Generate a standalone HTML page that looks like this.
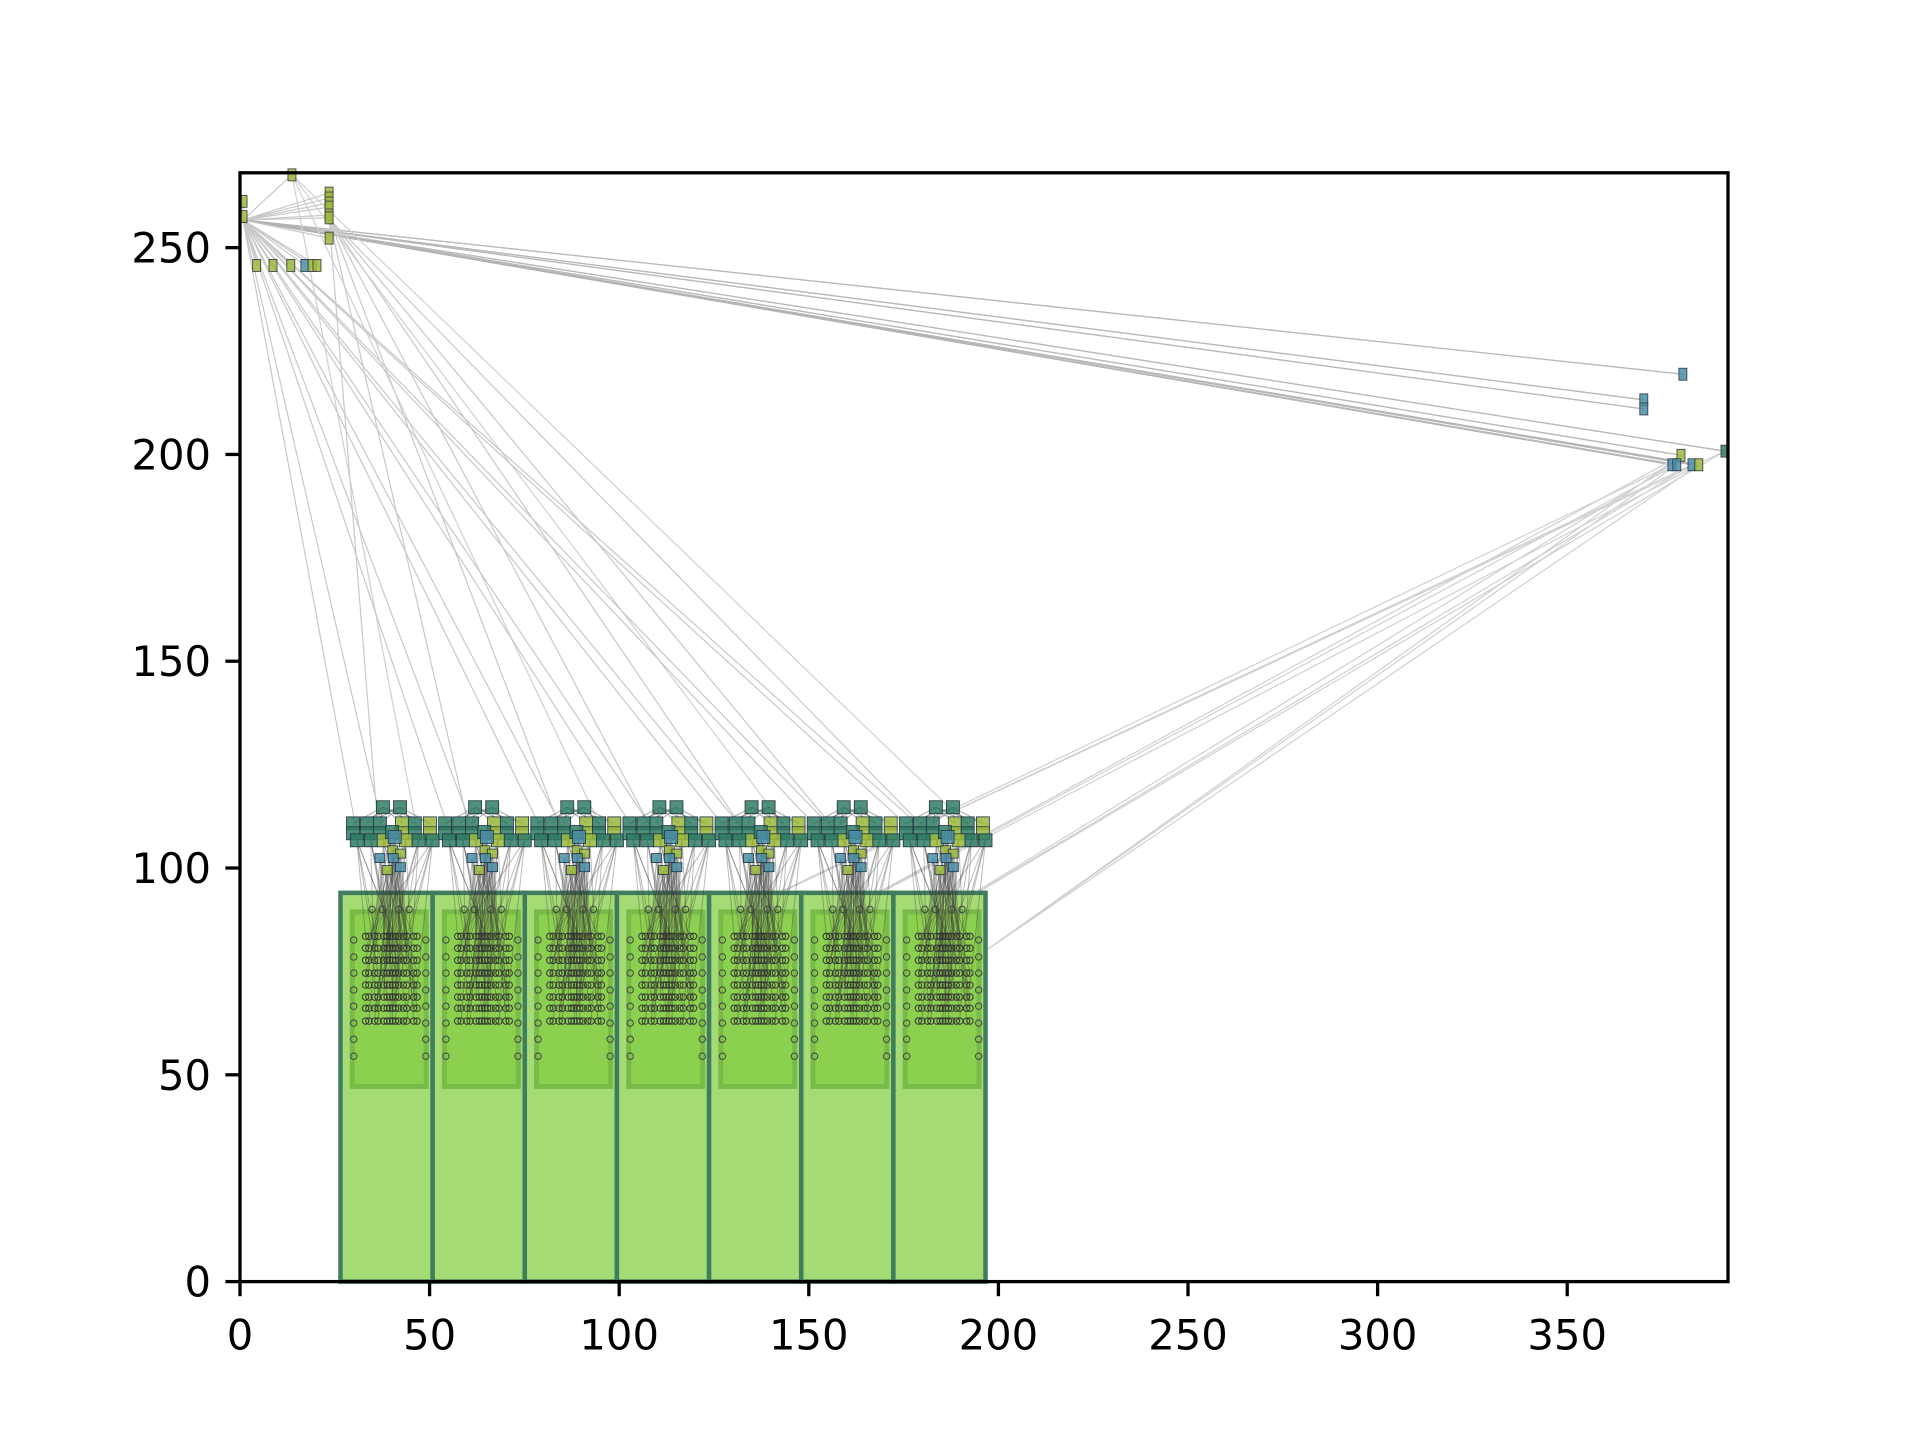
<!DOCTYPE html>
<html><head><meta charset="utf-8">
<style>
html,body{margin:0;padding:0;background:#fff;}
svg{display:block;font-family:"DejaVu Sans","Liberation Sans",sans-serif;}
</style></head>
<body>
<svg id="chart" width="1920" height="1440" viewBox="0 0 1920 1440" xmlns="http://www.w3.org/2000/svg">
<rect width="1920" height="1440" fill="#fff"/>
<g id="edges"></g>
<g id="racks"></g>
<g id="rackedges"></g>
<g id="nodes"></g>
<g id="axes"></g>
</svg>
<script>
// ---- data ----
const xTicks = [0,50,100,150,200,250,300,350];
const yTicks = [0,50,100,150,200,250];
const xDomain = [0,392.4];
const yDomain = [0,268.1];
const rackLefts = [26.5,50.8,75.1,99.4,123.7,148.0,172.3];
const rackWidth = 24.3;
const rackHeight = 94;
const hubNode = [0.8,256.7];
const topLeftNodes = [[0.8,261.2,1],[0.8,257.5,1],[13.7,267.6,1],[23.5,263.2,1],[23.5,262,1],[23.5,260.8,1],[23.5,259.8,1],[23.5,257.9,1],[23.5,257.2,1],[23.5,252.3,1],[4.4,245.7,1],[8.7,245.7,1],[13.4,245.7,1],[17.1,245.7,2],[19,245.7,1],[20.3,245.7,1]];
const rightNodes = [[380.5,219.4,2],[370.2,213.2,2],[370.2,211,2],[391.6,200.8,0],[380,199.8,1],[377.6,197.5,2],[378.9,197.5,2],[382.9,197.5,2],[384.7,197.5,1]];
const rackSwitchNodes = [[11.2,114.7,0],[15.7,114.7,0],[3.3,110.8,0],[7,110.8,0],[10.4,110.8,0],[16.2,110.8,1],[19.6,110.8,0],[23.6,110.8,1],
 [3.3,108.4,0],[7,108.4,0],[10.4,108.4,0],[16.2,108.4,1],[19.6,108.4,0],[23.6,108.4,1],
 [4.3,106.7,0],[8,106.7,0],[11.4,106.7,1],[17.2,106.7,1],[20.6,106.7,0],[24.3,106.7,0],
 [13.6,108.7,0],[14.3,107.5,2],[13.8,104.3,1],[15.8,103.5,1],[10.4,102.4,2],[13.9,102.4,2],[12.3,99.5,1],[15.8,100.2,2]];
const serverRowsY = [83.5,80.6,77.7,74.6,71.7,68.8,66.1,63];
const serverColsOffset = [6.6,7.5,9.0,9.9,11.4,12.3,13.0,13.7,14.5,15.4,16.6,17.5,19.3,20.2];
const sideDotsY = [82.6,78.5,74.6,70.5,66.6,62.5,58.6,54.5];
const sideDotsOffset = [3.5,22.5];
const topDotsOffset = [8.3,11,15.4,18.1];
const topDotsY = 90;
const innerRect = [3.1,22.6,47.2,89.4];
const nodeColors = ['#2f7d63','#9bb83b','#4a8ea6'];

const L=240,R=1728,T=172.8,B=1281.6;
const sx = v => L+(v-xDomain[0])/(xDomain[1]-xDomain[0])*(R-L);
const sy = v => B-(v-yDomain[0])/(yDomain[1]-yDomain[0])*(B-T);
const NS='http://www.w3.org/2000/svg';
function mk(tag,attrs,parent){const e=document.createElementNS(NS,tag);for(const k in attrs)e.setAttribute(k,attrs[k]);parent.appendChild(e);return e;}
const gE=document.getElementById('edges'),gR=document.getElementById('racks'),gRE=document.getElementById('rackedges'),gN=document.getElementById('nodes'),gA=document.getElementById('axes');

function line(x1,y1,x2,y2,g,col,w){const l=mk('line',{x1:sx(x1),y1:sy(y1),x2:sx(x2),y2:sy(y2),stroke:col,'stroke-width':w},g);

}

rightNodes.forEach(n=>{line(hubNode[0],hubNode[1],n[0],n[1],gE,'#999',1.2);line(hubNode[0],hubNode[1],n[0],n[1],gE,'#bbb',1);});
rightNodes.slice(3).forEach((n,i)=>{rackLefts.slice(3).forEach((rl,j)=>{if((i+j)%2==0)line(n[0],n[1],rl+rackWidth,rackHeight-8-j*2,gE,'#d0d0d0',1.2);});});
rackLefts.forEach((rl,j)=>{
 line(hubNode[0],hubNode[1],rl+4,110,gE,'#c8c8c8',1.2);
 line(hubNode[0],hubNode[1],rl+12,106,gE,'#c8c8c8',1.2);
 line(23.5,257,rl+10,108,gE,'#c8c8c8',1.2);
 if(j%2==0) line(13.7,267.6,rl+20,110,gE,'#d0d0d0',1.2);
});
topLeftNodes.forEach(n=>line(hubNode[0],hubNode[1],n[0],n[1],gE,'#c8c8c8',1.2));

rackLefts.forEach((rl,j)=>{
 const r=mk('rect',{x:sx(rl),y:sy(rackHeight),width:sx(rl+rackWidth)-sx(rl),height:sy(0)-sy(rackHeight),fill:'#a5db74',stroke:'#3f7d5e','stroke-width':4.5},gR);
 
 
 const ir=mk('rect',{x:sx(rl+innerRect[0]),y:sy(innerRect[3]),width:sx(rl+innerRect[1])-sx(rl+innerRect[0]),height:sy(innerRect[2])-sy(innerRect[3]),fill:'#8cd04f',stroke:'#79bb48','stroke-width':5},gR);
 
 
 rackSwitchNodes.slice(14).forEach((s,i)=>{serverColsOffset.forEach((c,k)=>{if((i+k)%3==0)line(rl+s[0],s[1],rl+c,serverRowsY[(i*3+k)%8],gRE,'rgba(60,60,60,0.35)',1);});});
 rackSwitchNodes.slice(0,2).forEach(s=>rackSwitchNodes.slice(2,8).forEach(t=>line(rl+s[0],s[1],rl+t[0],t[1],gRE,'rgba(80,80,80,0.5)',1)));
 serverRowsY.forEach(y=>serverColsOffset.forEach(c=>{const d=mk('circle',{cx:sx(rl+c),cy:sy(y),r:3.2,fill:'none',stroke:'#333','stroke-width':1},gRE);
  
  }));
 sideDotsOffset.forEach(o=>sideDotsY.forEach(y=>{const d=mk('circle',{cx:sx(rl+o),cy:sy(y),r:3.2,fill:'none',stroke:'#444','stroke-width':1},gRE);
  
  }));
 topDotsOffset.forEach(o=>{const d=mk('circle',{cx:sx(rl+o),cy:sy(topDotsY),r:3.2,fill:'none',stroke:'#444','stroke-width':1},gRE);
  
  });
 rackSwitchNodes.forEach(s=>{const big=s[1]>=106.5;const w=big?13:10,h=big?13:9;
  const n=mk('rect',{x:sx(rl+s[0])-w/2,y:sy(s[1])-h/2,width:w,height:h,fill:nodeColors[s[2]],'fill-opacity':0.85,stroke:'#234','stroke-width':0.8},gN);
  
  });
});
topLeftNodes.concat(rightNodes).forEach(s=>{
 const n=mk('rect',{x:sx(s[0])-4,y:sy(s[1])-6,width:8,height:12,fill:nodeColors[s[2]],'fill-opacity':0.85,stroke:'#334','stroke-width':0.8},gN);
 
 
});

const frame=mk('rect',{x:L,y:T,width:R-L,height:B-T,fill:'none',stroke:'#000','stroke-width':3.3},gA);


xTicks.forEach(t=>{const x=sx(t);mk('line',{x1:x,y1:B,x2:x,y2:B+14.6,stroke:'#000','stroke-width':3.3},gA);
 const tx=mk('text',{x:x,y:B+29+39,'text-anchor':'middle','font-size':41.7,fill:'#000'},gA);tx.textContent=t;
 
 });
yTicks.forEach(t=>{const y=sy(t);mk('line',{x1:L-14.6,y1:y,x2:L,y2:y,stroke:'#000','stroke-width':3.3},gA);
 const tx=mk('text',{x:L-29,y:y+15,'text-anchor':'end','font-size':41.7,fill:'#000'},gA);tx.textContent=t;
 
 });
</script>
</body></html>
